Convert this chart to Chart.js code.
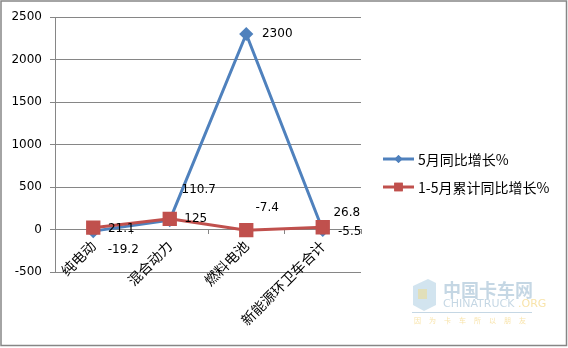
<!DOCTYPE html>
<html>
<head>
<meta charset="utf-8">
<script src="https://cdn.jsdelivr.net/npm/chart.js@4/dist/chart.umd.min.js"></script>
<style>
  html, body { margin: 0; padding: 0; background: #fff; }
  #wrap { width: 568px; height: 348px; position: relative; }
</style>
</head>
<body>
<div id="wrap"><canvas id="myChart"></canvas></div>
<script>
var categories = ["纯电动", "混合动力", "燃料电池", "新能源环卫车合计"];
var mayGrowth = [-19.2, 110.7, 2300, -5.5];
var ytdGrowth = [21.1, 125, -7.4, 26.8];
var seriesNames = ["5月同比增长%", "1-5月累计同比增长%"];
var yMin = -500, yMax = 2500, yStep = 500;

// where Excel put each value label, relative to its point
var labelOffsets = [
  [[30, 19], [29, -30], [31, 0], [27, 2]],
  [[28, 1], [26, 0], [21, -22], [24, -14]]
];

var gridColor = "#868686";
var numFont = "12px 'DejaVu Sans'";

var valueLabels = {
  id: "valueLabels",
  afterDatasetsDraw: function(chart) {
    var ctx = chart.ctx;
    ctx.save();
    ctx.font = numFont;
    ctx.fillStyle = "#000";
    ctx.textAlign = "center";
    ctx.textBaseline = "middle";
    chart.data.datasets.forEach(function(ds, i) {
      var meta = chart.getDatasetMeta(i);
      meta.data.forEach(function(pt, j) {
        var off = labelOffsets[i][j];
        ctx.fillText(String(ds.data[j]), pt.x + off[0], pt.y + off[1]);
      });
    });
    ctx.restore();
  }
};

var sideLegend = {
  id: "sideLegend",
  afterDraw: function(chart) {
    var ctx = chart.ctx;
    ctx.save();
    chart.data.datasets.forEach(function(ds, i) {
      var y = 159 + i * 28;
      ctx.strokeStyle = ds.borderColor;
      ctx.lineWidth = 3;
      ctx.beginPath();
      ctx.moveTo(383, y);
      ctx.lineTo(414, y);
      ctx.stroke();
      ctx.fillStyle = ds.borderColor;
      Chart.helpers.drawPoint(ctx, {pointStyle: ds.pointStyle, radius: i == 0 ? 4 : 6, borderWidth: 0}, 398.5, y);
      ctx.fill();
      ctx.fillStyle = "#000";
      ctx.font = "14px 'Noto Sans CJK SC'";
      ctx.textAlign = "left";
      ctx.textBaseline = "middle";
      ctx.fillText(ds.label, 418, y + 1);
    });
    // outer frame
    ctx.strokeStyle = gridColor;
    ctx.lineWidth = 1.5;
    ctx.strokeRect(1, 1, 565.5, 344.5);
    ctx.restore();
  }
};

var watermark = {
  id: "watermark",
  beforeDraw: function(chart) {
    var ctx = chart.ctx;
    ctx.save();
    ctx.globalAlpha = 0.45;
    ctx.fillStyle = "#9cc3dc";
    ctx.beginPath();
    ctx.moveTo(413, 286); ctx.lineTo(428, 279); ctx.lineTo(436, 283); ctx.lineTo(436, 305); ctx.lineTo(424, 311); ctx.lineTo(413, 305);
    ctx.fill();
    ctx.fillStyle = "#f3d97a";
    ctx.fillRect(418, 289, 9, 10);
    ctx.fillStyle = "#7fa7c4";
    ctx.font = "bold 18px 'Noto Sans CJK SC'";
    ctx.textBaseline = "middle";
    ctx.fillText("中国卡车网", 443, 290);
    ctx.font = "11px 'DejaVu Sans'";
    ctx.fillText("CHINATRUCK", 443, 304);
    ctx.fillStyle = "#f0c040";
    ctx.fillText(".ORG", 518, 304);
    ctx.strokeStyle = "#7fa7c4";
    ctx.lineWidth = 1;
    ctx.beginPath();
    ctx.moveTo(412, 312.5); ctx.lineTo(532, 312.5);
    ctx.stroke();
    ctx.font = "7px 'Noto Sans CJK SC'";
    var motto = "因为卡车所以朋友";
    for (var k = 0; k < motto.length; k++) {
      ctx.fillText(motto[k], 414 + k * 15, 320);
    }
    ctx.restore();
  }
};

var ctx = document.getElementById("myChart").getContext("2d");
var myChart = new Chart(ctx, {
  type: "line",
  data: {
    labels: categories,
    datasets: [{
      label: seriesNames[0],
      data: mayGrowth,
      borderColor: "#4F81BD",
      backgroundColor: "#4F81BD",
      borderWidth: 3,
      pointStyle: "rectRot",
      pointRadius: 5,
      pointHoverRadius: 5,
      order: 1
    }, {
      label: seriesNames[1],
      data: ytdGrowth,
      borderColor: "#C0504D",
      backgroundColor: "#C0504D",
      borderWidth: 3,
      pointStyle: "rect",
      pointRadius: 8,
      pointHoverRadius: 8,
      order: 0
    }]
  },
  options: {
    responsive: true,
    maintainAspectRatio: false,
    animation: false,
    events: [],
    layout: { padding: { left: 0, top: 17, right: 207, bottom: 76 } },
    plugins: {
      legend: { display: false },
      tooltip: { enabled: false }
    },
    scales: {
      x: {
        type: "category",
        position: { y: 0 },
        offset: true,
        grid: { offset: true, drawOnChartArea: false, drawTicks: true, tickLength: 4, color: gridColor },
        border: { color: gridColor, width: 1 },
        ticks: {
          minRotation: 45,
          maxRotation: 45,
          padding: 4,
          color: "#000",
          font: { family: "'Noto Sans CJK SC'", size: 14 }
        }
      },
      y: {
        min: yMin,
        max: yMax,
        afterFit: function(scale) { scale.width = 55; },
        ticks: {
          stepSize: yStep,
          padding: 8,
          color: "#000",
          font: { family: "'DejaVu Sans'", size: 12 },
          callback: function(v) { return String(v); }
        },
        grid: { color: gridColor, tickLength: 5 },
        border: { color: gridColor, width: 1 }
      }
    }
  },
  plugins: [watermark, valueLabels, sideLegend]
});
</script>
</body>
</html>
